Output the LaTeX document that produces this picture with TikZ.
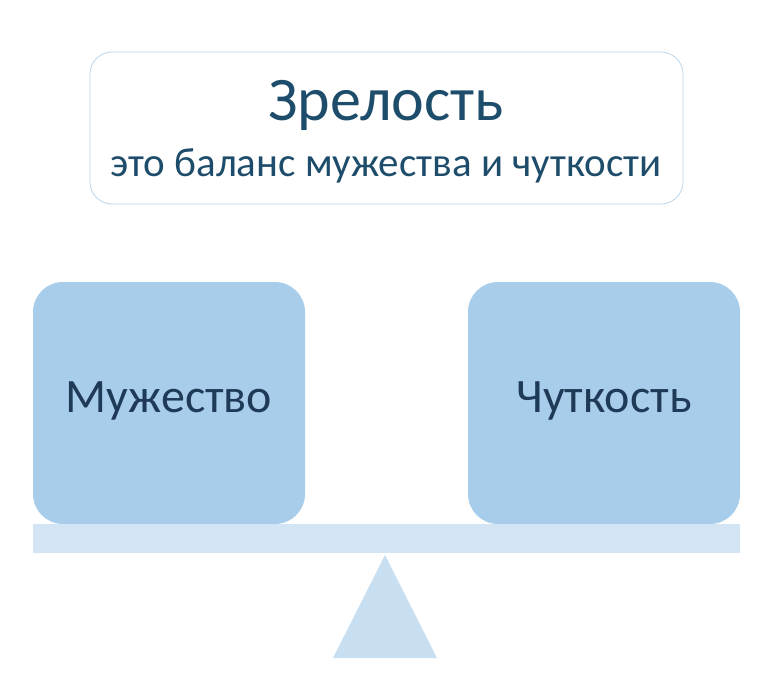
\documentclass[tikz,border=0pt]{standalone}
\usepackage{fontspec}
\setmainfont{Carlito}
\begin{document}
\begin{tikzpicture}[x=1pt,y=-1pt,
  pan/.style={fill=boxblue,draw=none,rounded corners=30pt},
  lbl/.style={text=txtblue,font=\fontsize{48}{54}\selectfont}]
\definecolor{boxblue}{HTML}{A7CDEB}
\definecolor{txtblue}{HTML}{1F3A56}
\definecolor{titleblue}{HTML}{1E4D6B}
\definecolor{beamblue}{HTML}{D3E5F5}
\definecolor{tri}{HTML}{C8DFF2}
\definecolor{bord}{HTML}{BCD6EA}
\useasboundingbox (0,0) rectangle (770,693);
\draw[draw=bord,line width=0.8pt,rounded corners=22pt,fill=white] (90,52) rectangle (683,204);
\node[text=titleblue,font=\fontsize{62}{68}\selectfont] (t) at (386,105) {Зрелость};
\node[text=titleblue,font=\fontsize{41}{46}\selectfont] (s) at (386,166) {это баланс мужества и чуткости};
\fill[pan] (33,282) rectangle (305,524);
\node[lbl] (m) at (169,401) {Мужество};
\fill[pan] (468,282) rectangle (740,524);
\node[lbl] (c) at (604,401) {Чуткость};
\fill[beamblue] (33,524) rectangle (740,553);
\fill[tri] (385,555) -- (437,658) -- (333,658) -- cycle;
\end{tikzpicture}
\end{document}
